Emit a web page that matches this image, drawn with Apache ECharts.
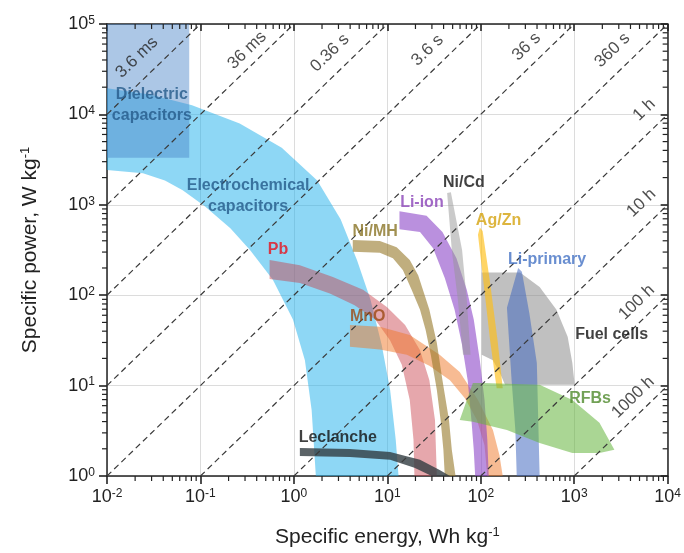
<!DOCTYPE html>
<html>
<head>
<meta charset="utf-8">
<script src="https://cdn.jsdelivr.net/npm/echarts@6/dist/echarts.min.js"></script>
<style>
    html, body { margin: 0; padding: 0; background: #fff; }
    #ragone { width: 684px; height: 553px; }
</style>
</head>
<body>
<div id="ragone"></div>
<script>
// every outline as [log10 E (Wh/kg), log10 P (W/kg)]
var dielectricBox = [[-2, 5], [-1.12, 5], [-1.12, 3.52], [-2, 3.52]];

var ecOuter = [[-2, 4.29], [-1.54, 4.22], [-1.09, 4.10], [-0.58, 3.90], [-0.13, 3.63], [0.25, 3.27], [0.50, 2.84], [0.675, 2.39], [0.82, 1.95], [0.94, 1.45], [1.03, 0.95], [1.09, 0.40], [1.12, 0]];
var ecInner = [[-2, 3.385], [-1.615, 3.35], [-1.38, 3.27], [-1.19, 3.16], [-0.95, 2.98], [-0.68, 2.74], [-0.47, 2.50], [-0.225, 2.17], [-0.01, 1.73], [0.118, 1.28], [0.19, 0.73], [0.235, 0]];

var pbTop = [[-0.26, 2.39], [0.064, 2.33], [0.417, 2.20], [0.74, 2.06], [0.995, 1.87], [1.19, 1.67], [1.35, 1.39], [1.45, 1.06], [1.51, 0.62], [1.53, 0]];
var pbBottom = [[-0.26, 2.18], [0.064, 2.135], [0.385, 2.02], [0.65, 1.89], [0.87, 1.73], [1.03, 1.50], [1.155, 1.23], [1.24, 0.84], [1.28, 0.40], [1.29, 0]];

var mnoTop = [[0.60, 1.67], [0.92, 1.65], [1.24, 1.56], [1.56, 1.34], [1.775, 1.15], [1.97, 0.84], [2.13, 0.51], [2.20, 0.23], [2.235, 0]];
var mnoBottom = [[0.60, 1.43], [0.92, 1.40], [1.21, 1.34], [1.45, 1.22], [1.67, 1.06], [1.83, 0.86], [1.96, 0.62], [2.04, 0.34], [2.07, 0]];

var nimhTop = [[0.63, 2.61], [0.92, 2.60], [1.10, 2.53], [1.24, 2.39], [1.33, 2.22], [1.40, 2.00], [1.45, 1.84], [1.53, 1.47], [1.59, 1.06], [1.66, 0.62], [1.69, 0.29], [1.73, 0]];
var nimhBottom = [[0.63, 2.48], [0.92, 2.47], [1.06, 2.41], [1.166, 2.28], [1.26, 2.06], [1.35, 1.84], [1.41, 1.615], [1.465, 1.34], [1.53, 0.95], [1.57, 0.62], [1.60, 0.29], [1.615, 0]];

var liionTop = [[1.13, 2.93], [1.42, 2.88], [1.59, 2.70], [1.74, 2.41], [1.85, 2.06], [1.925, 1.73], [1.99, 1.28], [2.04, 0.84], [2.07, 0.40], [2.085, 0]];
var liionBottom = [[1.13, 2.73], [1.35, 2.70], [1.49, 2.52], [1.615, 2.19], [1.72, 1.84], [1.80, 1.45], [1.86, 1.06], [1.90, 0.62], [1.925, 0.29], [1.94, 0]];

var nicdShape = [[1.64, 3.13], [1.68, 3.14], [1.80, 2.50], [1.85, 1.95], [1.89, 1.34], [1.81, 1.34], [1.755, 1.95], [1.69, 2.50]];
var agznShape = [[1.99, 2.75], [2.02, 2.71], [2.10, 2.135], [2.18, 1.50], [2.235, 0.97], [2.17, 0.97], [2.10, 1.50], [2.03, 2.135], [1.97, 2.67]];
var liprimShape = [[2.40, 2.30], [2.44, 2.26], [2.52, 1.80], [2.60, 1.25], [2.63, 0], [2.385, 0], [2.37, 0.51], [2.33, 1.06], [2.28, 1.86]];
var fuelShape = [[2.01, 2.25], [2.42, 2.25], [2.63, 2.09], [2.81, 1.84], [2.93, 1.54], [2.98, 1.25], [3.005, 1.01], [2.26, 1.01], [2.20, 1.15], [2.13, 1.28], [2.01, 1.34]];
var rfbShape = [[1.775, 0.62], [1.915, 1.03], [2.02, 1.03], [2.63, 1.01], [2.98, 0.84], [3.27, 0.59], [3.43, 0.29], [3.27, 0.255], [2.98, 0.255], [2.63, 0.365], [2.28, 0.51], [1.915, 0.60]];

var leclTop = [[0.064, 0.31], [0.60, 0.30], [1.03, 0.265], [1.35, 0.18], [1.56, 0.066], [1.67, 0]];
var leclBottom = [[0.064, 0.22], [0.60, 0.21], [1.03, 0.18], [1.29, 0.09], [1.475, 0]];

// constant discharge time lines, end points in log10 units
var timeNames = ['3.6 ms', '36 ms', '0.36 s', '3.6 s', '36 s', '360 s', '1 h', '10 h', '100 h', '1000 h'];
var timeStart = [[-2, 4], [-2, 3], [-2, 2], [-2, 1], [-2, 0], [-1, 0], [0, 0], [1, 0], [2, 0], [3, 0]];
var timeEnd = [[-1, 5], [0, 5], [1, 5], [2, 5], [3, 5], [4, 5], [4, 4], [4, 3], [4, 2], [4, 1]];
var timeLabelPos = [[-1.68, 4.63], [-0.50, 4.71], [0.385, 4.68], [1.43, 4.71], [2.49, 4.75], [3.41, 4.71], [3.75, 4.05], [3.72, 3.02], [3.67, 1.92], [3.63, 0.87]];

var regionNames = ['Dielectric\ncapacitors', 'Electrochemical\ncapacitors', 'Pb', 'MnO', 'Ni/MH', 'Li-ion', 'Ni/Cd', 'Ag/Zn', 'Li-primary', 'Fuel cells', 'RFBs', 'Leclanche'];
var regionLabelPos = [[-1.52, 4.10], [-0.49, 3.10], [-0.17, 2.50], [0.79, 1.76], [0.87, 2.70], [1.37, 3.02], [1.82, 3.25], [2.19, 2.83], [2.71, 2.39], [3.40, 1.56], [3.17, 0.86], [0.47, 0.42]];
var regionLabelColors = ['#245a8a', '#245a8a', '#e8101c', '#9c4a14', '#8a7426', '#8b44b8', '#111', '#d4a20e', '#4472c4', '#111', '#4f8a2c', '#111'];

var FONT = 'Arial, "Liberation Sans", sans-serif';

var toVal = function(p) {
    return [Math.pow(10, p[0]), Math.pow(10, p[1])];
};

// close a band: upper edge then lower edge backwards
var band = function(top, bottom) {
    return top.concat(bottom.slice().reverse());
};

var regions = [
    { pts: band(ecOuter, ecInner), fill: 'rgba(30,175,235,0.5)' },
    { pts: dielectricBox, fill: 'rgba(70,130,200,0.45)' },
    { pts: band(pbTop, pbBottom), fill: 'rgba(200,60,70,0.45)' },
    { pts: band(mnoTop, mnoBottom), fill: 'rgba(240,120,40,0.5)' },
    { pts: band(nimhTop, nimhBottom), fill: 'rgba(150,120,40,0.6)' },
    { pts: band(liionTop, liionBottom), fill: 'rgba(140,70,200,0.6)' },
    { pts: nicdShape, fill: 'rgba(150,150,150,0.5)' },
    { pts: fuelShape, fill: 'rgba(135,135,135,0.52)' },
    { pts: agznShape, fill: 'rgba(255,190,20,0.65)' },
    { pts: liprimShape, fill: 'rgba(60,100,190,0.52)' },
    { pts: rfbShape, fill: 'rgba(100,180,60,0.55)' },
    { pts: band(leclTop, leclBottom), fill: 'rgba(50,60,65,0.8)' }
];

// minor ticks 2..9 of every decade (frame decoration)
var minorE = [], minorP = [];
for (var d = -2; d < 4; d++) {
    for (var m = 2; m < 10; m++) {
        minorE.push(m * Math.pow(10, d));
    }
}
for (var d2 = 0; d2 < 5; d2++) {
    for (var m2 = 2; m2 < 10; m2++) {
        minorP.push(m2 * Math.pow(10, d2));
    }
}

var powLabel = function(value) {
    var e = Math.round(Math.log(value) / Math.LN10);
    return '{b|10}{sup|' + e + '}';
};

var labelRich = {
    b: { fontSize: 18, color: '#222', fontFamily: FONT },
    sup: { fontSize: 12, color: '#222', fontFamily: FONT, verticalAlign: 'top', padding: [0, 0, 7, 0] }
};

var nameRich = {
    sup: { fontSize: 13, color: '#222', fontFamily: FONT, verticalAlign: 'top', padding: [0, 0, 9, 0] }
};

var axisLineStyle = { color: '#222', width: 1.5 };
var tickStyle = { color: '#222', width: 1.6 };

var chart = echarts.init(document.getElementById('ragone'));

var series = [];

// 储能区域 + 次刻度 in one custom series
var frameTicks = [];
minorE.forEach(function(e) {
    frameTicks.push({ at: [e, 1], dx: 0, dy: 5 });
    frameTicks.push({ at: [e, 100000], dx: 0, dy: 5 });
});
minorP.forEach(function(p) {
    frameTicks.push({ at: [0.01, p], dx: -5, dy: 0 });
    frameTicks.push({ at: [10000, p], dx: -5, dy: 0 });
});

series.push({
    type: 'custom',
    silent: true,
    z: 2,
    clip: false,
    data: regions.map(function(r) { return toVal(r.pts[0]); }),
    renderItem: function(params, api) {
        var r = regions[params.dataIndex];
        var pts = r.pts.map(function(p) { return api.coord(toVal(p)); });
        var children = [{
            type: 'polygon',
            shape: { points: pts },
            style: { fill: r.fill }
        }];
        // the first item also carries the frame's minor ticks
        if (params.dataIndex === 0) {
            frameTicks.forEach(function(t) {
                var c = api.coord(t.at);
                children.push({
                    type: 'rect',
                    z2: 50,
                    shape: {
                        x: c[0] + Math.min(t.dx, 0) - (t.dx ? 0 : 0.6),
                        y: c[1] + Math.min(t.dy, 0) - (t.dy ? 0 : 0.6),
                        width: t.dx ? Math.abs(t.dx) : 1.2,
                        height: t.dy ? Math.abs(t.dy) : 1.2
                    },
                    style: { fill: '#222' }
                });
            });
        }
        return { type: 'group', children: children };
    }
});

// 放电时间虚线
for (var i = 0; i < timeNames.length; i++) {
    series.push({
        type: 'line',
        silent: true,
        z: 3,
        symbol: 'none',
        lineStyle: { color: '#3a3a3a', width: 1.2, type: [6, 4] },
        data: [toVal(timeStart[i]), toVal(timeEnd[i])]
    });
}

// 时间标签
series.push({
    type: 'scatter',
    silent: true,
    z: 5,
    symbolSize: 1,
    itemStyle: { color: 'transparent' },
    label: {
        show: true,
        position: 'inside',
        rotate: 44,
        color: '#222',
        fontSize: 17,
        fontFamily: FONT,
        formatter: function(p) { return p.name; }
    },
    data: timeNames.map(function(n, k) {
        return { name: n, value: toVal(timeLabelPos[k]) };
    })
});

// 区域名称
series.push({
    type: 'scatter',
    silent: true,
    z: 6,
    symbolSize: 1,
    itemStyle: { color: 'transparent' },
    label: {
        show: true,
        position: 'inside',
        fontSize: 16,
        fontWeight: 'bold',
        lineHeight: 21,
        align: 'center',
        fontFamily: FONT,
        formatter: function(p) { return p.name; }
    },
    data: regionNames.map(function(n, k) {
        return { name: n, value: toVal(regionLabelPos[k]), label: { color: regionLabelColors[k] } };
    })
});

var option = {
    animation: false,
    backgroundColor: '#fff',
    grid: { left: 107, right: 16, top: 24, bottom: 77 },
    xAxis: [{
        type: 'log',
        logBase: 10,
        min: 0.01,
        max: 10000,
        position: 'bottom',
        name: 'Specific energy, Wh kg{sup|-1}',
        nameLocation: 'middle',
        nameGap: 50,
        nameTextStyle: { fontSize: 21, color: '#222', fontFamily: FONT, rich: nameRich },
        axisLine: { lineStyle: axisLineStyle },
        axisTick: { show: true, inside: false, length: 8, lineStyle: tickStyle },
        axisLabel: { margin: 12, formatter: powLabel, rich: labelRich },
        splitLine: { show: true, lineStyle: { color: '#dcdcdc', width: 1 } }
    }, {
        type: 'log',
        logBase: 10,
        min: 0.01,
        max: 10000,
        position: 'top',
        axisLine: { lineStyle: axisLineStyle },
        axisTick: { show: true, inside: true, length: 7, lineStyle: tickStyle },
        axisLabel: { show: false },
        splitLine: { show: false }
    }],
    yAxis: [{
        type: 'log',
        logBase: 10,
        min: 1,
        max: 100000,
        position: 'left',
        name: 'Specific power, W kg{sup|-1}',
        nameLocation: 'middle',
        nameGap: 66,
        nameRotate: 90,
        nameTextStyle: { fontSize: 21, color: '#222', fontFamily: FONT, rich: nameRich },
        axisLine: { lineStyle: axisLineStyle },
        axisTick: { show: true, inside: false, length: 8, lineStyle: tickStyle },
        axisLabel: { margin: 12, formatter: powLabel, rich: labelRich },
        splitLine: { show: true, lineStyle: { color: '#dcdcdc', width: 1 } }
    }, {
        type: 'log',
        logBase: 10,
        min: 1,
        max: 100000,
        position: 'right',
        axisLine: { lineStyle: axisLineStyle },
        axisTick: { show: true, inside: true, length: 7, lineStyle: tickStyle },
        axisLabel: { show: false },
        splitLine: { show: false }
    }],
    series: series
};

chart.setOption(option);

window.addEventListener('resize', function() {
    chart.resize();
});
</script>
</body>
</html>
